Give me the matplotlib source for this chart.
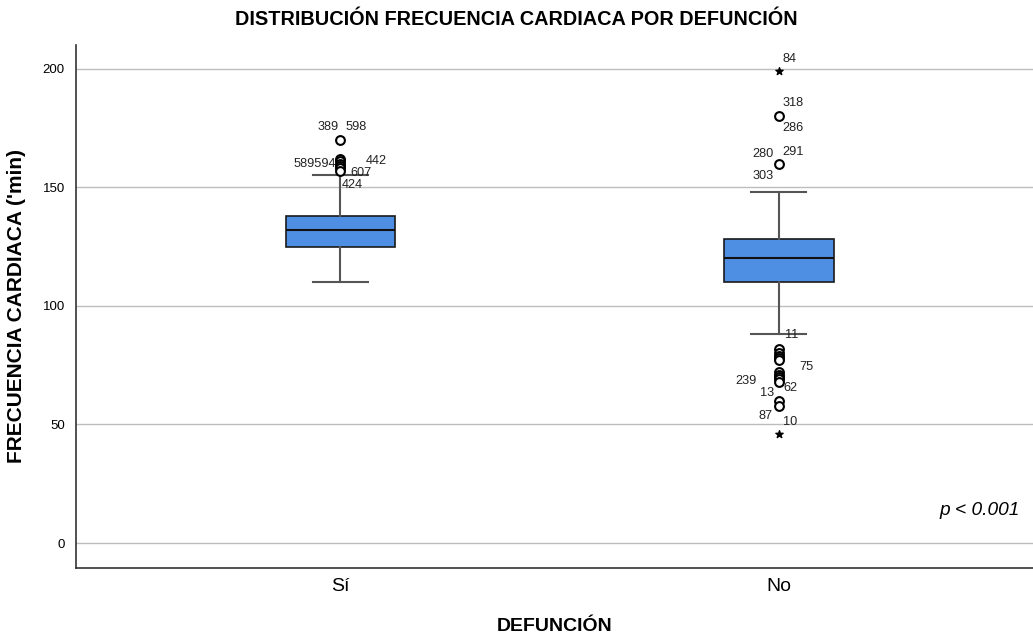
import numpy as np
import matplotlib.pyplot as plt

plt.rcParams["font.family"] = ["Liberation Sans", "DejaVu Sans"]

# grupos
groups = ["Sí", "No"]

# estadisticos de las cajas
q1 = [125, 110]
med = [132, 120]
q3 = [138, 128]
whislo = [110, 88]
whishi = [155, 148]

# valores atipicos (circulos) y extremos (estrellas)
outliers_si = [170, 162, 161, 160, 159, 158, 157]
outliers_no = [180, 160, 82, 80, 79, 78, 77, 72, 71, 70, 69, 68, 60, 58]
extremes_no = [199, 46]

# etiquetas de casos: (grupo, valor, texto)
case_labels = [
    (0, 170, "389"), (0, 170, "598"), (0, 160, "589594"), (0, 160, "442"),
    (0, 157, "607"), (0, 157, "424"),
    (1, 199, "84"), (1, 180, "318"), (1, 180, "286"), (1, 160, "280"),
    (1, 160, "291"), (1, 160, "303"), (1, 88, "11"), (1, 77, "75"),
    (1, 70, "239"), (1, 68, "13"), (1, 68, "62"), (1, 46, "87"), (1, 46, "10"),
]
# desplazamientos en pixeles de cada etiqueta
label_offsets = [
    (-12, 13), (16, 13), (-26, 0), (36, 3), (21, -2), (12, -14),
    (11, 12), (14, 13), (14, -12), (-16, 10), (14, 12), (-16, -12),
    (13, -1), (28, -7), (-33, -4), (-12, -11), (12, -6), (-13, 18), (11, 12),
]

fig = plt.figure(figsize=(10.33, 6.4), dpi=100)
ax = fig.add_axes([0.0736, 0.1125, 0.9264, 0.8172])

positions = [1, 2]
stats = []
for i in range(2):
    stats.append(dict(q1=q1[i], med=med[i], q3=q3[i], whislo=whislo[i],
                      whishi=whishi[i], fliers=[]))

ax.bxp(stats, positions=positions, widths=0.25, patch_artist=True,
       showfliers=False,
       boxprops=dict(facecolor="#4f8fe3", edgecolor="#1a1a1a", linewidth=1.2),
       medianprops=dict(color="#111111", linewidth=1.5),
       whiskerprops=dict(color="#555555", linewidth=1.5),
       capprops=dict(color="#555555", linewidth=1.5))

ax.scatter([1] * len(outliers_si), outliers_si, s=40, facecolors="white",
           edgecolors="black", linewidths=1.5, zorder=3)
ax.scatter([2] * len(outliers_no), outliers_no, s=40, facecolors="white",
           edgecolors="black", linewidths=1.5, zorder=3)
ax.scatter([2] * len(extremes_no), extremes_no, marker="*", s=30,
           color="black", zorder=3)

for (g, v, t), (dx, dy) in zip(case_labels, label_offsets):
    ax.annotate(t, (positions[g], v), xytext=(dx, dy),
                textcoords="offset pixels", ha="center", va="center",
                fontsize=9.2, color="#222222")

ax.set_ylim(-10.5, 210)
ax.set_xlim(0.397, 2.58)
ax.set_yticks([0, 50, 100, 150, 200])
ax.set_xticks(positions)
ax.set_xticklabels(groups, fontsize=14)
ax.tick_params(axis="y", length=0, labelsize=9.5, pad=8)
ax.tick_params(axis="x", length=0, pad=7)
ax.yaxis.grid(True, color="#bdbdbd", linewidth=1)
ax.set_axisbelow(True)
for side in ["top", "right"]:
    ax.spines[side].set_visible(False)
for side in ["left", "bottom"]:
    ax.spines[side].set_color("#333333")
    ax.spines[side].set_linewidth(1.2)

ax.set_ylabel("FRECUENCIA CARDIACA ('min)", fontsize=15, fontweight="bold",
              labelpad=12)
ax.set_xlabel("DEFUNCIÓN", fontsize=14, fontweight="bold", labelpad=17)
fig.suptitle("DISTRIBUCIÓN FRECUENCIA CARDIACA POR DEFUNCIÓN", fontsize=14.3,
             fontweight="bold", y=0.984)
ax.text(0.944, 0.11, "p < 0.001", transform=ax.transAxes, fontsize=13.8,
        style="italic", ha="center", va="center")

fig.savefig("out.png", dpi=100)
